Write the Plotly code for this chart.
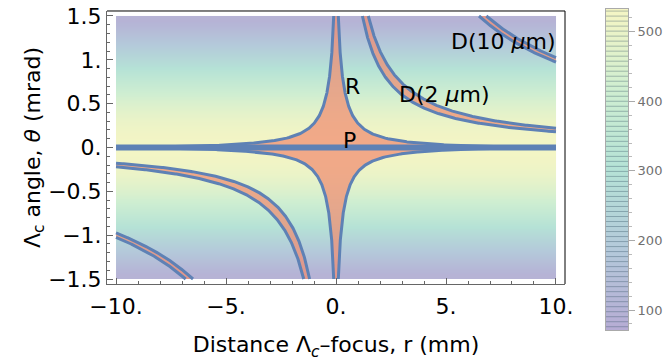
import numpy as np
import plotly.graph_objects as go

# ---- colour field: intensity vs angle (rows every 0.125 mrad, upper half; mirrored below)
theta_rows_upper = [0.0625, 0.1875, 0.3125, 0.4375, 0.5625, 0.6875,
                    0.8125, 0.9375, 1.0625, 1.1875, 1.3125, 1.4375]
intensity_upper = [528, 518, 500, 472, 435, 390, 340, 288, 235, 185, 140, 100]
r_span = [-10.0, 10.0]          # mm
theta_span = [-1.5, 1.5]        # mrad
cbar_range = [71.3, 532.6]
cbar_ticks = [100, 200, 300, 400, 500]

# ---- regions
D_levels = [2.0, 10.0]          # µm, D = r * theta
D_halfwidth = [0.2, 0.25]
R_k0, R_theta_a, R_theta_b = 0.32, 0.035, 1.5   # R region: |r|(|θ|+θa)(1+θ²/θb²) < k0

# ---- labels
x_ticks = [-10, -5, 0, 5, 10]
x_ticktext = ["\u221210.", "\u22125.", "0.", "5.", "10."]
y_ticks = [-1.5, -1.0, -0.5, 0.0, 0.5, 1.0, 1.5]
y_ticktext = ["\u22121.5", "\u22121.", "\u22120.5", "0.", "0.5", "1.", "1.5"]
labels = [("R", 0.73, 0.70), ("P", 0.6, 0.085),
          ("D(2 <i>\u03bc</i>m)", 4.95, 0.61), ("D(10 <i>\u03bc</i>m)", 7.6, 1.21)]

FONT = "DejaVu Sans"
BLUE = "#5E81B5"
SALMON = "rgba(240,140,112,0.72)"
pastel = [[0.0, "#b6acd4"], [0.25, "#b4c9da"], [0.5, "#b5e2d6"],
          [0.75, "#cfeed1"], [1.0, "#f5f5c4"]]

fig = go.Figure()

# density field
theta_c = [-t for t in theta_rows_upper[::-1]] + theta_rows_upper
vals = intensity_upper[::-1] + intensity_upper
theta_edges = np.linspace(theta_span[0], theta_span[1], len(theta_c) + 1)
fig.add_trace(go.Heatmap(
    x=[r_span[0], 0.0, r_span[1]], y=theta_edges,
    z=[[v, v] for v in vals], zmin=cbar_range[0], zmax=cbar_range[1],
    colorscale=pastel, zsmooth="best", showscale=False, hoverinfo="skip"))

# R region
th = np.concatenate([np.linspace(-1.5, -0.1, 200), np.linspace(-0.1, 0.1, 400)[1:-1],
                     np.linspace(0.1, 1.5, 200)])
fR = R_k0 / ((np.abs(th) + R_theta_a) * (1 + th**2 / R_theta_b**2))
fig.add_trace(go.Scatter(x=np.concatenate([fR, -fR[::-1]]), y=np.concatenate([th, th[::-1]]),
                         fill="toself", fillcolor=SALMON, mode="none", hoverinfo="skip"))

# D bands (quadrants I and III)
band_lines = []
for D, dd in zip(D_levels, D_halfwidth):
    lo, hi = D - dd, D + dd
    r_lo = np.geomspace(lo / theta_span[1], r_span[1], 300)
    r_hi = np.geomspace(hi / theta_span[1], r_span[1], 300)
    for s in (1, -1):
        px = np.concatenate([r_lo, r_hi[::-1]]) * s
        py = np.concatenate([lo / r_lo, hi / r_hi[::-1]]) * s
        fig.add_trace(go.Scatter(x=px, y=py, fill="toself", fillcolor=SALMON,
                                 mode="none", hoverinfo="skip"))
        band_lines.append((s * r_lo, s * lo / r_lo))
        band_lines.append((s * r_hi, s * hi / r_hi))

# outlines
for bx, by in band_lines + [(fR, th), (-fR, th)]:
    fig.add_trace(go.Scatter(x=bx, y=by, mode="lines", hoverinfo="skip",
                             line=dict(color=BLUE, width=3)))
# P line
fig.add_trace(go.Scatter(x=r_span, y=[0, 0], mode="lines", hoverinfo="skip",
                         line=dict(color=BLUE, width=6)))

# legend bar
cb_edges = np.linspace(cbar_range[0], cbar_range[1], 201)
cb_mid = (cb_edges[:-1] + cb_edges[1:]) / 2
fig.add_trace(go.Heatmap(x=[0, 1], y=cb_edges, z=[[v] for v in cb_mid],
                         zmin=cbar_range[0], zmax=cbar_range[1], colorscale=pastel,
                         showscale=False, xaxis="x2", yaxis="y2", hoverinfo="skip"))
cl_x, cl_y = [], []
for lev in np.arange(76, 532, 7.2):
    cl_x += [0, 1, None]
    cl_y += [lev, lev, None]
fig.add_trace(go.Scatter(x=cl_x, y=cl_y, mode="lines", xaxis="x2", yaxis="y2",
                         line=dict(color="rgba(50,80,100,0.36)", width=1), hoverinfo="skip"))

for text, rx, ty in labels:
    fig.add_annotation(x=rx, y=ty, text=text, showarrow=False,
                       font=dict(family=FONT, size=22, color="black"))

axis_common = dict(showgrid=False, zeroline=False, showline=True, linecolor="#666",
                   linewidth=1, ticks="inside", ticklen=6, tickcolor="#666", automargin=False,
                   tickfont=dict(family=FONT, size=22, color="black"))
fig.update_layout(
    width=664, height=364, margin=dict(l=107, r=36, t=9, b=34, autoexpand=False),
    paper_bgcolor="white", plot_bgcolor="white", showlegend=False,
    xaxis=dict(domain=[0, 0.8791], range=[-10.41, 10.41], tickvals=x_ticks,
               ticktext=x_ticktext, ticklabelstandoff=3,
               minor=dict(dtick=1, tick0=0, ticklen=3, ticks="inside", tickcolor="#666"),
               title=dict(text="Distance \u039b<sub><i>c</i></sub>\u2013focus, r (mm)",
                          font=dict(family=FONT, size=22, color="black"), standoff=18),
               **axis_common),
    yaxis=dict(domain=[0.1433, 0.9938], range=[-1.557, 1.557], tickvals=y_ticks,
               ticktext=y_ticktext,
               minor=dict(dtick=0.1, tick0=0, ticklen=3, ticks="inside", tickcolor="#666"),
               title=dict(text="\u039b<sub>c</sub> angle, <i>\u03b8</i> (mrad)",
                          font=dict(family=FONT, size=22, color="black"), standoff=0),
               **axis_common),
    xaxis2=dict(domain=[0.9578, 1.0], range=[0, 1], showgrid=False, zeroline=False,
                showticklabels=False, showline=True, mirror=True, linecolor="#aaa",
                anchor="y2", automargin=False),
    yaxis2=dict(domain=[0, 1], range=cbar_range, side="right", anchor="x2",
                showgrid=False, zeroline=False, showline=True, mirror=True, linecolor="#aaa",
                ticks="outside", ticklen=6, tickcolor="#aaa", tickvals=cbar_ticks,
                automargin=False,
                minor=dict(dtick=20, tick0=0, ticklen=3, ticks="outside", tickcolor="#bbb"),
                tickfont=dict(family=FONT, size=13, color="#707070")),
    shapes=[dict(type="line", xref="x domain", yref="y domain", x0=0, x1=1, y0=1, y1=1,
                 line=dict(color="black", width=1)),
            dict(type="line", xref="x domain", yref="y domain", x0=1, x1=1, y0=0, y1=1,
                 line=dict(color="black", width=1))],
)
fig.write_html("out.html")
